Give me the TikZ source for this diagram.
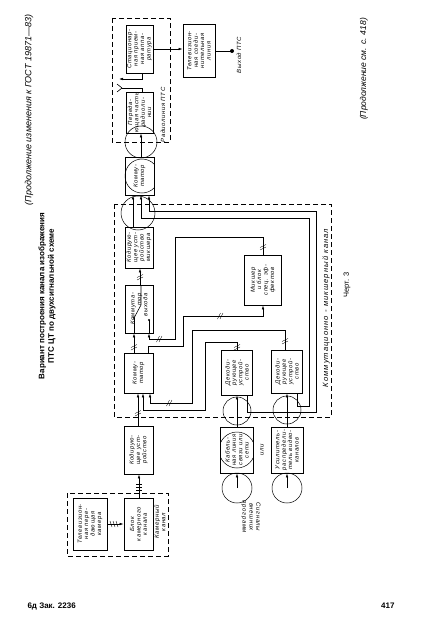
\documentclass[tikz,border=0pt]{standalone}
\usepackage{fontspec}
\setmainfont{Liberation Sans}
\usetikzlibrary{arrows.meta,calc}

% tick marks on bus lines
\newcommand{\vticks}[2]{\draw[line width=0.4pt] (#1-3,#2+1.5) -- (#1+3,#2-1.5) (#1-3,#2+4) -- (#1+3,#2+1);}
\newcommand{\hticks}[2]{\draw[line width=0.4pt] (#1-1.5,#2+3) -- (#1+1.5,#2-3) (#1+1,#2+3) -- (#1+4,#2-3);}

\begin{document}
\begin{tikzpicture}[x=1pt,y=-1pt,
  blk/.style={draw,line width=0.8pt,rotate=90,inner sep=0.3pt,align=center,
              font=\fontsize{5.9}{6.4}\selectfont\itshape\addfontfeature{LetterSpace=10}},
  lbl/.style={rotate=90,inner sep=0pt,align=center,
              font=\fontsize{6}{6.6}\selectfont\itshape\addfontfeature{LetterSpace=10}},
  grp/.style={draw,line width=0.5pt,dash pattern=on 5pt off 3pt},
  ring/.style={draw,circle,line width=0.5pt,inner sep=0pt},
  con/.style={line width=0.6pt},
  arr/.style={con,-{Latex[length=4pt,width=2.6pt]}}]

\fill[white] (0,0) rectangle (426,634);
\useasboundingbox (0,0) rectangle (426,634);

% page texts
\node[rotate=90,font=\fontsize{9}{10}\selectfont\itshape] (hdr) at (29,110)
  {(Продолжение изменения к ГОСТ 19871---83)};
\node[rotate=90,align=center,font=\fontsize{8}{9.5}\selectfont\bfseries] (ttl) at (47,296)
  {Вариант построения канала изображения\\ПТС ЦТ по двухсигнальной схеме};
\node[rotate=90,font=\fontsize{7.5}{8}\selectfont] (fig) at (347,285) {Черт. 3};
\node[rotate=90,font=\fontsize{8.5}{9}\selectfont\itshape] (cont) at (364,69)
  {(Продолжение см. с. 418)};
\node[font=\fontsize{8}{9}\selectfont\bfseries,anchor=west] (zak) at (24,606) {6д Зак. 2236};
\node[font=\fontsize{8}{9}\selectfont\bfseries,anchor=east] (pg) at (398,606) {417};

% groups
\draw[grp] (112,18) rectangle (170,142);
\draw[grp] (114,204) rectangle (331,417);
\draw[grp] (67,493) rectangle (168,556);
\node[lbl] (lrad) at (163,115) {Радиолиния ПТС};
\node[lbl] (lkam) at (160,522) {Камерный\\канал};
\node[lbl,font=\fontsize{7.6}{8}\selectfont\itshape\addfontfeature{LetterSpace=14}] (lkmk) at (326,308)
  {Коммутационно - микшерный канал};

% blocks (width = image height, height = image width)
\node[blk,minimum width=48pt,minimum height=27pt] (stac) at (139.5,49)
  {Стационар-\\ная прием-\\ная аппа-\\ратура};
\node[blk,minimum width=41pt,minimum height=27pt] (pered) at (139.5,112.5)
  {Переда-\\ющая часть\\радиоли-\\нии};
\node[blk,minimum width=53pt,minimum height=32pt] (tvsl) at (199,51)
  {Телевизион-\\ная соеди-\\нительная\\линия};
\node[blk,minimum width=38pt,minimum height=29pt] (kom1) at (139.5,176)
  {Комму-\\татор};
\node[blk,minimum width=41pt,minimum height=28pt] (kodmix) at (139,247.5)
  {Кодирую-\\щее уст-\\ройство\\микшера};
\node[blk,minimum width=48pt,minimum height=28pt,align=right] (komvyh) at (139,309)
  {Коммута-\\тор\\выхода};
\node[blk,minimum width=40pt,minimum height=29pt] (komlow) at (138.5,373)
  {Комму-\\татор};
\node[blk,minimum width=48pt,minimum height=29pt] (kod) at (138.5,450)
  {Кодирую-\\щее уст-\\ройство};
\node[blk,minimum width=52pt,minimum height=29pt] (blok) at (138.5,524)
  {Блок\\камерного\\канала};
\node[blk,minimum width=52pt,minimum height=34pt] (kam) at (90,524)
  {Телевизион-\\ная пере-\\дающая\\камера};
\node[blk,minimum width=50pt,minimum height=37pt] (mix) at (263,280)
  {Микшер\\и блок\\спец. эф-\\фектов};
\node[blk,minimum width=45pt,minimum height=31pt] (dec1) at (237,372.5)
  {Декоди-\\рующее\\устрой-\\ство};
\node[blk,minimum width=43pt,minimum height=31pt] (dec2) at (287,371.5)
  {Декоди-\\рующее\\устрой-\\ство};
\node[blk,minimum width=46pt,minimum height=33pt] (srcA) at (237,450)
  {Кабель-\\ная линия\\связи или\\сети};
\node[blk,minimum width=46pt,minimum height=32pt] (srcB) at (287,450)
  {Усилитель-\\распредели-\\тель видео-\\каналов};

% circles inside blocks
\begin{scope}
  \clip (kom1.north west) rectangle (kom1.south east);
  \draw[line width=0.5pt] (142,176) circle (17pt);
\end{scope}
\begin{scope}
  \clip (srcA.north west) rectangle (srcA.south east);
  \draw[line width=0.5pt] (237,450) circle (18pt);
\end{scope}

% connector rings
\node[ring,minimum size=32pt] (r1) at (141,142) {};
\node[ring,minimum size=34pt] (r2) at (138,213) {};
\node[ring,minimum size=28pt] (d1) at (237,411) {};
\node[ring,minimum size=28pt] (d2) at (287,410) {};
\node[ring,minimum size=30pt] (s1) at (237,488) {};
\node[ring,minimum size=30pt] (s2) at (287,488) {};
\node[lbl] (ili) at (262,450) {или};
\node[rotate=-90,align=center,inner sep=0pt,
      font=\fontsize{6}{6.8}\selectfont\itshape\addfontfeature{LetterSpace=10}]
  (sig) at (251,517) {Сигналы\\внешних\\программ};

% radio link and output
\coordinate (ant) at (122,88);
\draw[con] (pered.east -| 142,0) |- (ant);
\draw[con] (ant) -- ++(-5,-4) (ant) -- ++(-5,4);
\draw[arr] (stac.west -| 142,0) |- (119,79);
\draw[arr] (stac.south) -- (stac.south -| tvsl.north);
\coordinate (out) at (232,51);
\draw[con] (tvsl.south) -- (out);
\fill (out) circle (2pt);
\node[lbl] (lout) at (239,55) {Выход ПТС};

% main chain
\draw[arr] (kom1.east -| 141,0) -- (pered.west -| 141,0);
\draw[arr] (kodmix.east -| 133,0) -- (kom1.west -| 133,0);
\draw[arr] (komvyh.east -| 140,0) -- (kodmix.west -| 140,0);
\vticks{140}{276}
\draw[arr] (komlow.east -| 134,0) -- (komvyh.west -| 134,0);
\vticks{134}{346}
\draw[arr] (kod.east -| 138,0) -- (komlow.west -| 138,0);
\vticks{138}{412}
\draw[arr] (blok.east -| 139,0) -- (kod.west -| 139,0);
\foreach \t in {484,487,490} \draw[line width=0.4pt] (136,\t) -- (142,\t);
\draw[arr] (kam.south) -- (blok.north);
\foreach \t in {110,113,116} \draw[line width=0.4pt] (\t,521) -- (\t+2,527);

% switch in output commutator
\draw[con] (141,285) -- (141,305) -- (134,318);
\draw[con] (134,333) -- (134,318) (149,333) -- (149,320);
\fill (134,318) circle (1.2pt) (149,320) circle (1.2pt);

% mixer
\draw[arr] (mix.east) |- (175,237) |- (149,339) -- (komvyh.west -| 149,0);
\vticks{263}{246}
\hticks{158}{339}
\draw[arr] (komlow.east -| 148,0) |- (183,346) |- (263,316) -- (mix.west);
\hticks{219}{316}

% decoders to lower commutator
\draw[arr] (dec1.east) |- (205,342) |- (143,410) -- (komlow.west -| 143,0);
\vticks{237}{346}
\draw[arr] (dec2.east -| 285,0) |- (192,330) |- (150,403) -- (komlow.west -| 150,0);
\vticks{285}{340}
\hticks{168}{403}

% decoders to upper commutator
\draw[arr] (dec2.west -| 297,0) |- (309,406) |- (141,218) -- (kom1.west -| 141,0);
\draw[arr] (dec1.west -| 247,0) |- (316,412) |- (149,211) -- (kom1.west -| 149,0);

% external signals
\draw[arr] (s1.center) -- (srcA.west -| s1.center);
\draw[arr] (s2.center) -- (srcB.west -| s2.center);
\draw[arr] (srcA.east -| 237,0) -- (dec1.west -| 237,0);
\draw[arr] (srcB.east -| 287,0) -- (dec2.west -| 287,0);
\end{tikzpicture}
\end{document}
